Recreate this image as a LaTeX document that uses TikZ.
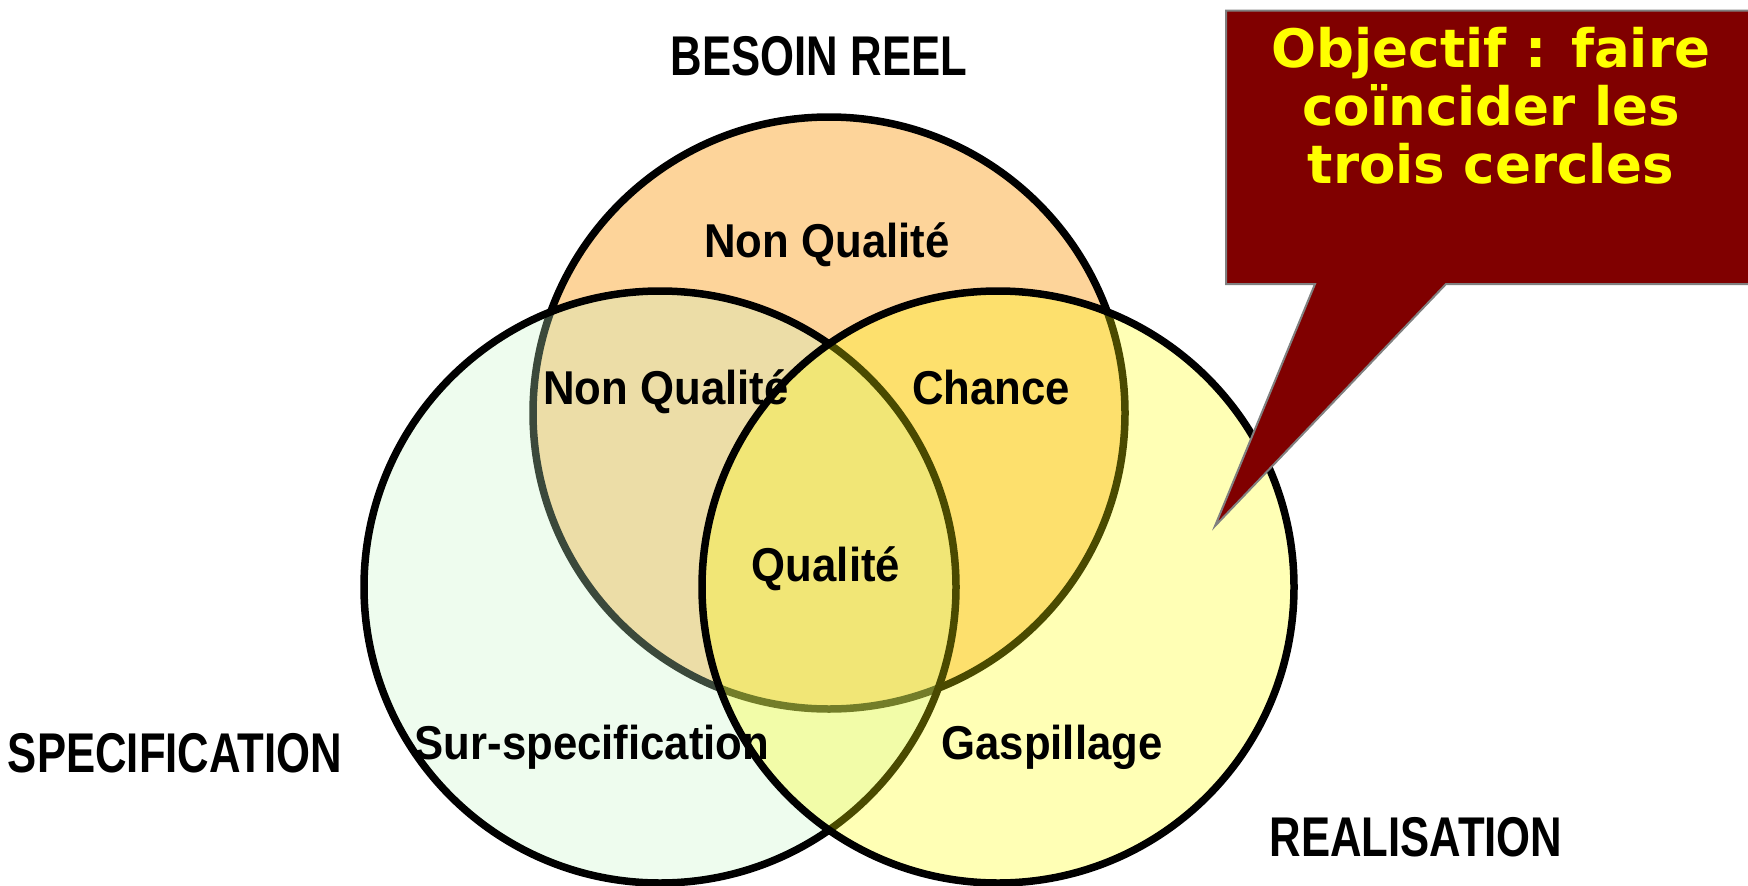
\documentclass[tikz,border=0pt]{standalone}
\usepackage{fontspec}
\setmainfont{Liberation Sans}
\newfontfamily\capsfont[FakeStretch=0.78]{Liberation Sans}
\newfontfamily\lblfont[FakeStretch=0.92]{Liberation Sans}
\newfontfamily\calloutfont{DejaVu Sans}
\definecolor{orangefill}{RGB}{253,212,154}
\definecolor{greenfill}{RGB}{198,245,198}
\definecolor{yellowfill}{RGB}{255,255,0}
\definecolor{maroonfill}{RGB}{128,0,0}
\definecolor{calloutline}{RGB}{128,128,128}
\definecolor{textyellow}{RGB}{255,255,0}
\tikzset{
  venn/.style={circle, draw=black, line width=7.5pt, minimum size=592pt, inner sep=0pt},
  capslabel/.style={anchor=base, inner sep=0pt, font=\capsfont\bfseries\fontsize{56}{62}\selectfont},
  regionlabel/.style={anchor=base, inner sep=0pt, font=\lblfont\bfseries\fontsize{47.5}{52}\selectfont},
  callout/.style={fill=maroonfill, draw=calloutline, line width=2pt, line join=miter},
}
\begin{document}
\begin{tikzpicture}[x=1pt, y=-1pt]
\useasboundingbox (0,0) rectangle (1748,886);
% circles
\node[venn, fill=orangefill] (besoin) at (829,413) {};
\node[venn, fill=greenfill, fill opacity=0.3] (spec) at (660,587) {};
\node[venn, fill=yellowfill, fill opacity=0.29] (real) at (998,587) {};
% region labels
\node[regionlabel] (nq1) at (827,257) {Non Qualité};
\node[regionlabel] (nq2) at (666,404) {Non Qualité};
\node[regionlabel] (chance) at (991,404) {Chance};
\node[regionlabel] (qual) at (826,581) {Qualité};
\node[regionlabel] (sur) at (592,759) {Sur-specification};
\node[regionlabel] (gasp) at (1052,759) {Gaspillage};
% circle titles
\node[capslabel] (tbesoin) at (819,75) {BESOIN REEL};
\node[capslabel] (tspec) at (175,772) {SPECIFICATION};
\node[capslabel] (treal) at (1416,856) {REALISATION};
% callout
\coordinate (tip) at (1215,526);
\draw[callout] (1226,10.5) -- (1760,10.5) -- (1760,284) -- (1446,284) -- (tip) -- (1315,284) -- (1226,284) -- cycle;
\node[anchor=base, inner sep=0pt, align=center, text=textyellow,
      font=\calloutfont\bfseries\fontsize{53}{58}\selectfont] (objectif) at (1491,183)
      {Objectif : faire\\coïncider les\\trois cercles};
\end{tikzpicture}
\end{document}
